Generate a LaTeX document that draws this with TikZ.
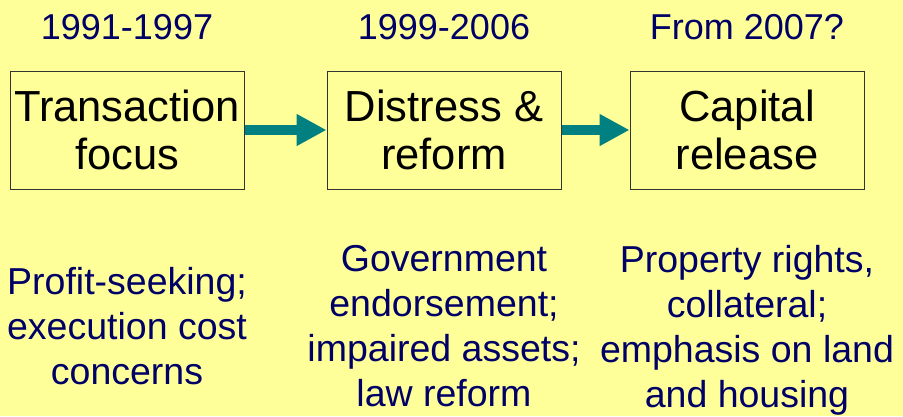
\documentclass[tikz,border=0pt]{standalone}
\usepackage{fontspec}
\setmainfont{Liberation Sans}
\usetikzlibrary{arrows.meta,positioning}
\definecolor{paleyellow}{HTML}{FFFF99}
\definecolor{darknavy}{HTML}{000066}
\definecolor{darkteal}{HTML}{008080}

\begin{document}
\begin{tikzpicture}[node distance=2cm,on grid,auto,
  phase/.style={draw=black!80,line width=1pt,fill=paleyellow,minimum width=234pt,
    minimum height=118pt,inner sep=0pt,align=center,font=\fontsize{43.5}{48}\selectfont},
  period/.style={text=darknavy,font=\fontsize{36}{45}\selectfont},
  note/.style={text=darknavy,align=center,text depth=0pt,font=\fontsize{37.5}{45}\selectfont},
  flow/.style={-{Triangle[length=30pt,width=30pt]},line width=10pt,darkteal}]
\fill[paleyellow] (0,0) rectangle (903pt,-416pt);
\useasboundingbox (0,0) rectangle (903pt,-416pt);
\node[phase] (T) at (127pt,-130pt) {Transaction\\focus};
\node[phase] (D) [right=317pt of T] {Distress \&\\reform};
\node[phase] (C) [right=303pt of D] {Capital\\release};
\node[period] (T_y) [above=103pt of T] {1991-1997};
\node[period] (D_y) [above=103pt of D] {1999-2006};
\node[period] (C_y) [above=103pt of C] {From 2007?};
\node[note] (T_n) [below=196pt of T] {Profit-seeking;\\execution cost\\concerns};
\node[note] (D_n) [below=196pt of D] {Government\\endorsement;\\impaired assets;\\law reform};
\node[note] (C_n) [below=196pt of C] {Property rights,\\collateral;\\emphasis on land\\and housing};
\draw[flow]
	(T) edge (D)
	(D) edge (C);
\end{tikzpicture}
\end{document}
